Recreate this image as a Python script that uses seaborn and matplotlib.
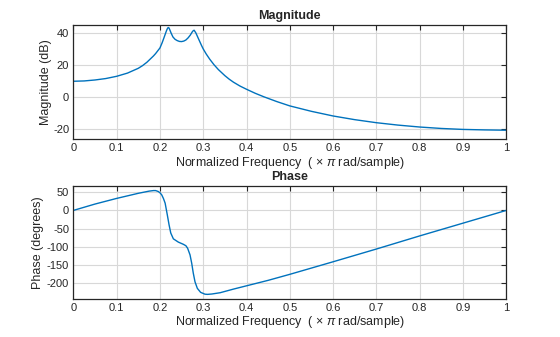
import matplotlib
matplotlib.use("Agg")
import matplotlib.pyplot as plt
import seaborn as sns
import pandas as pd

# Magnitude response (dB) against normalized frequency (x pi rad/sample)
mag_freq = [0.0, 0.025, 0.05, 0.075, 0.1, 0.125, 0.15, 0.16, 0.17, 0.185, 0.19,
            0.2, 0.205, 0.21, 0.213, 0.215, 0.217, 0.219, 0.221, 0.223, 0.226,
            0.23, 0.235, 0.24, 0.245, 0.25, 0.255, 0.26, 0.265, 0.27, 0.275,
            0.277, 0.279, 0.283, 0.287, 0.291, 0.296, 0.3, 0.307, 0.315,
            0.325, 0.335, 0.35, 0.36, 0.37, 0.385, 0.4, 0.42, 0.44, 0.47, 0.5,
            0.55, 0.6, 0.65, 0.7, 0.75, 0.8, 0.85, 0.9, 0.95, 1.0]
mag_db = [10.0, 10.2, 10.8, 11.7, 13.1, 15.1, 18.1, 19.8, 21.9, 25.8, 27.3,
          30.8, 34.0, 37.7, 40.0, 41.5, 42.8, 43.6, 43.3, 42.0, 40.0,
          37.7, 36.2, 35.4, 34.9, 34.8, 35.1, 35.8, 37.1, 38.8, 41.0,
          41.6, 41.9, 40.2, 37.8, 35.4, 32.4, 30.2, 27.0, 23.8,
          20.3, 17.3, 13.5, 11.3, 9.4, 7.0, 5.0, 2.5, 0.3, -2.7, -5.4,
          -8.8, -11.7, -14.0, -15.9, -17.4, -18.6, -19.5, -20.1, -20.4, -20.6]

# Phase response (degrees)
ph_freq = [0.0, 0.05, 0.1, 0.15, 0.175, 0.185, 0.19, 0.196, 0.2, 0.204, 0.208,
           0.212, 0.217, 0.221, 0.225, 0.231, 0.2425, 0.254, 0.26, 0.264,
           0.2695, 0.2734, 0.277, 0.281, 0.2864, 0.294, 0.304, 0.31, 0.32,
           0.339, 0.37, 0.4, 0.45, 0.5, 0.6, 0.7, 0.8, 0.9, 1.0]
ph_deg = [0.0, 17.5, 33.0, 47.0, 53.0, 54.5, 54.5, 52.0, 48.5, 43.0, 33.0,
          20.0, -12.0, -39.0, -62.0, -78.0, -87.0, -93.0, -97.0, -104.0,
          -122.0, -145.0, -172.0, -196.0, -214.0, -225.0, -230.0, -230.5, -229.5,
          -226.0, -216.0, -207.0, -192.0, -175.5, -141.0, -106.0, -70.0, -35.0, 0.0]

x_ticks = [0, 0.1, 0.2, 0.3, 0.4, 0.5, 0.6, 0.7, 0.8, 0.9, 1]
x_tick_labels = ["0", "0.1", "0.2", "0.3", "0.4", "0.5", "0.6", "0.7", "0.8", "0.9", "1"]
mag_ticks = [-20, 0, 20, 40]
ph_ticks = [-200, -150, -100, -50, 0, 50]

sns.set_style("white")
plt.rcParams["font.family"] = ["Liberation Sans", "DejaVu Sans"]
plt.rcParams["mathtext.fontset"] = "custom"
plt.rcParams["mathtext.rm"] = "Liberation Sans"
plt.rcParams["mathtext.it"] = "Liberation Sans:italic"

line_color = "#0072BD"
text_color = "#262626"
xlabel = r"Normalized Frequency  ( $\times$ $\pi$ rad/sample)"

fig = plt.figure(figsize=(5.6, 3.37), dpi=100)
ax1 = fig.add_axes([0.131, 0.587, 0.773, 0.339])
ax2 = fig.add_axes([0.131, 0.113, 0.773, 0.335])

mag_df = pd.DataFrame({"freq": mag_freq, "db": mag_db})
ph_df = pd.DataFrame({"freq": ph_freq, "deg": ph_deg})

sns.lineplot(data=mag_df, x="freq", y="db", ax=ax1, color=line_color,
             linewidth=1.0, sort=False, estimator=None)
sns.lineplot(data=ph_df, x="freq", y="deg", ax=ax2, color=line_color,
             linewidth=1.0, sort=False, estimator=None)

panels = [
    (ax1, "Magnitude", "Magnitude (dB)", mag_ticks, (-26.2, 45.2), 1),
    (ax2, "Phase", "Phase (degrees)", ph_ticks, (-243, 67), 2),
]
for ax, title, ylabel, yticks, ylim, ypad in panels:
    ax.set_xlim(0, 1)
    ax.set_ylim(*ylim)
    ax.set_xticks(x_ticks)
    ax.set_xticklabels(x_tick_labels)
    ax.set_yticks(yticks)
    ax.set_yticklabels([str(t) for t in yticks])
    ax.grid(True, color="#d8d8d8", linewidth=0.8)
    ax.set_axisbelow(True)
    ax.tick_params(direction="in", top=True, right=True, length=3.5,
                   width=0.8, colors=text_color, labelsize=8, pad=3)
    for sp in ax.spines.values():
        sp.set_visible(True)
        sp.set_color(text_color)
        sp.set_linewidth(0.9)
    ax.set_title(title, fontsize=9, fontweight="bold", color=text_color, pad=4)
    ax.set_xlabel(xlabel, fontsize=9, color=text_color, labelpad=1)
    ax.set_ylabel(ylabel, fontsize=9, color=text_color, labelpad=ypad)

fig.savefig("out.png", dpi=100, facecolor="white")
